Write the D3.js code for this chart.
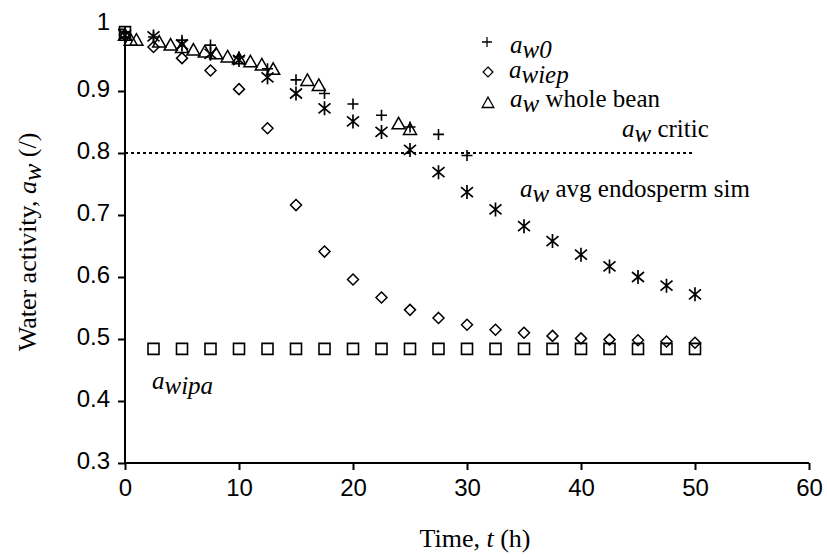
<!DOCTYPE html>
<html>
<head>
<meta charset="utf-8">
<script src="https://cdn.jsdelivr.net/npm/d3@7"></script>
<style>
  html, body { margin: 0; padding: 0; background: #fff; }
  svg { display: block; }
</style>
</head>
<body>
<svg id="chart" width="827" height="557"></svg>
<script>
// ---------- data ----------
const tAw0      = [0, 2.5, 5, 7.5, 10, 12.5, 15, 17.5, 20, 22.5, 25, 27.5, 30];
const aw0       = [0.995, 0.987, 0.982, 0.974, 0.955, 0.936, 0.918, 0.896, 0.879, 0.861, 0.842, 0.830, 0.796];

const tWiep     = [0, 2.5, 5, 7.5, 10, 12.5, 15, 17.5, 20, 22.5, 25, 27.5, 30, 32.5, 35, 37.5, 40, 42.5, 45, 47.5, 50];
const awiep     = [0.990, 0.971, 0.953, 0.933, 0.903, 0.840, 0.716, 0.641, 0.596, 0.567, 0.547, 0.534, 0.523, 0.515, 0.510, 0.505, 0.501, 0.499, 0.498, 0.496, 0.494];

const tBean     = [0, 0.5, 1, 3, 4, 5, 6, 7, 8, 9, 10, 11, 12, 13, 16, 17, 24, 25];
const awBean    = [0.990, 0.982, 0.982, 0.979, 0.974, 0.970, 0.966, 0.963, 0.960, 0.955, 0.952, 0.947, 0.942, 0.935, 0.917, 0.909, 0.847, 0.838];

const tSim      = [0, 2.5, 5, 7.5, 10, 12.5, 15, 17.5, 20, 22.5, 25, 27.5, 30, 32.5, 35, 37.5, 40, 42.5, 45, 47.5, 50];
const awSim     = [0.990, 0.988, 0.975, 0.960, 0.950, 0.922, 0.896, 0.872, 0.851, 0.834, 0.805, 0.769, 0.737, 0.709, 0.682, 0.658, 0.636, 0.617, 0.600, 0.586, 0.572];

const tIpa      = [0, 2.5, 5, 7.5, 10, 12.5, 15, 17.5, 20, 22.5, 25, 27.5, 30, 32.5, 35, 37.5, 40, 42.5, 45, 47.5, 50];
const awipa     = [0.995, 0.484, 0.484, 0.484, 0.484, 0.484, 0.484, 0.484, 0.484, 0.484, 0.484, 0.484, 0.484, 0.484, 0.484, 0.484, 0.484, 0.484, 0.484, 0.484, 0.484];

const criticValue = 0.8;
const criticRange = [0, 50];

const xTicks = [0, 10, 20, 30, 40, 50, 60];
const yTicks = [0.3, 0.4, 0.5, 0.6, 0.7, 0.8, 0.9, 1];

// ---------- scales ----------
const svg = d3.select("#chart");
const x = d3.scaleLinear().domain([0, 60]).range([125, 809]);
const y = d3.scaleLinear().domain([0.3, 1]).range([463, 29]);

const SANS = "'Liberation Sans', Arial, sans-serif";
const SERIF = "'Liberation Serif', 'Times New Roman', serif";

// ---------- axes ----------
const xAxis = svg.append("g")
  .attr("transform", `translate(0,${y(0.3)})`)
  .call(d3.axisBottom(x).tickValues(xTicks).tickSize(7).tickPadding(9).tickFormat(d3.format("d")));
const yAxis = svg.append("g")
  .attr("transform", `translate(${x(0)},0)`)
  .call(d3.axisLeft(y).tickValues(yTicks).tickSize(7).tickPadding(8)
    .tickFormat(d => d === 1 ? "1" : d.toFixed(1)));

[xAxis, yAxis].forEach(g => {
  g.select(".domain").attr("stroke", "#000").attr("stroke-width", 2);
  g.selectAll(".tick line").attr("stroke", "#000").attr("stroke-width", 2);
  g.selectAll(".tick text").attr("fill", "#000")
    .style("font-family", SANS).style("font-size", "24px");
});
yAxis.selectAll(".tick text").attr("y", d => d === 1 ? -7 : -2);
xAxis.select(".domain").attr("d", `M${x(0)},0H${x(60)}`);
yAxis.select(".domain").attr("d", `M0,${y(0.3)}V${y(1)}`);

// ---------- critic line ----------
svg.append("line")
  .attr("x1", x(criticRange[0])).attr("x2", x(criticRange[1]))
  .attr("y1", y(criticValue)).attr("y2", y(criticValue))
  .attr("stroke", "#000").attr("stroke-width", 2)
  .attr("stroke-dasharray", "3,3");

// ---------- marker shapes ----------
const shapes = {
  square:   "M-5.5,-5.5H5.5V5.5H-5.5Z",
  diamond:  "M0,-5.5L5.5,0L0,5.5L-5.5,0Z",
  plus:     "M-5.5,0H5.5M0,-5.5V5.5",
  star:     "M0,-7V7M-6,-5L6,5M-6,5L6,-5",
  triangle: "M0,-6.5L6.5,5L-6.5,5Z"
};

function drawSeries(ts, vs, shape, sw) {
  const data = ts.map((t, i) => ({ t, v: vs[i] }));
  svg.append("g").selectAll("path").data(data).join("path")
    .attr("d", shapes[shape])
    .attr("transform", d => `translate(${x(d.t)},${y(d.v)})`)
    .attr("fill", "none").attr("stroke", "#000").attr("stroke-width", sw);
}
drawSeries(tIpa, awipa, "square", 1.6);
drawSeries(tWiep, awiep, "diamond", 1.5);
drawSeries(tAw0, aw0, "plus", 1.6);
drawSeries(tSim, awSim, "star", 1.7);
drawSeries(tBean, awBean, "triangle", 1.5);

// ---------- legend ----------
const legend = [
  { shape: "plus", mx: 487, my: 42, tx: 510, ty: 53, sub: "w0", rest: "" },
  { shape: "diamond", mx: 488, my: 72, tx: 509, ty: 78, sub: "wiep", rest: "" },
  { shape: "triangle", mx: 488, my: 103, tx: 510, ty: 107, sub: "w", rest: " whole bean" }
];
legend.forEach(l => {
  svg.append("path").attr("d", shapes[l.shape])
    .attr("transform", `translate(${l.mx},${l.my}) scale(0.9)`)
    .attr("fill", "none").attr("stroke", "#000").attr("stroke-width", 1.4);
});

function awLabel(px, py, sub, rest, size) {
  const t = svg.append("text").attr("x", px).attr("y", py)
    .style("font-family", SERIF).style("font-size", size + "px").attr("fill", "#000");
  t.append("tspan").style("font-style", "italic").text("a");
  t.append("tspan").style("font-style", "italic").attr("dy", 5).text(sub);
  if (rest) t.append("tspan").attr("dy", -5).text(rest);
  return t;
}
legend.forEach(l => awLabel(l.tx, l.ty, l.sub, l.rest, 25));
awLabel(622, 137, "w", " critic", 25);
awLabel(520, 197, "w", " avg endosperm sim", 25);
awLabel(152, 389, "wipa", "", 25);

// ---------- axis titles ----------
const xt = svg.append("text").attr("x", 475).attr("y", 547).attr("text-anchor", "middle")
  .style("font-family", SERIF).style("font-size", "26px").attr("fill", "#000");
xt.append("tspan").text("Time, ");
xt.append("tspan").style("font-style", "italic").text("t");
xt.append("tspan").text(" (h)");

const yt = svg.append("text").attr("transform", "translate(36,242) rotate(-90)")
  .attr("text-anchor", "middle")
  .style("font-family", SERIF).style("font-size", "26px").attr("fill", "#000");
yt.append("tspan").text("Water activity, ");
yt.append("tspan").style("font-style", "italic").text("a");
yt.append("tspan").style("font-style", "italic").attr("dy", 5).text("w");
yt.append("tspan").attr("dy", -5).text(" (/)");
</script>
</body>
</html>
